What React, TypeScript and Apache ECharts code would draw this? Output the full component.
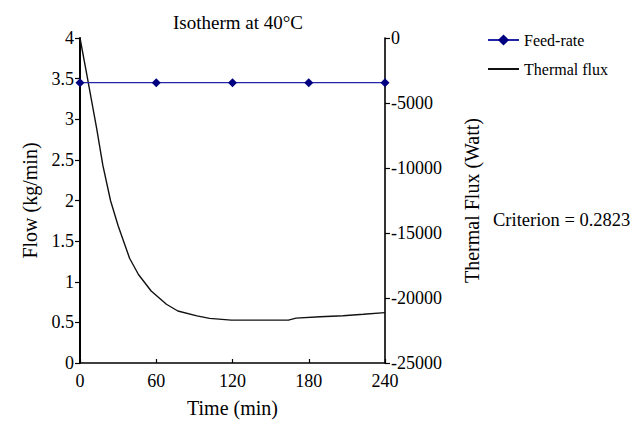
import React, { useEffect, useRef } from "react";
import * as echarts from "echarts";

const FONT = "Liberation Serif";

const feedTime = [0, 60, 120, 180, 240];
const feedRate = [3.45, 3.45, 3.45, 3.45, 3.45];

const fluxTime = [0, 5, 13, 18, 24, 30, 39, 46, 56, 68, 77, 92, 102, 119, 164, 170, 189, 207, 223, 240];
const fluxValues = [0, -2620, -6900, -9800, -12500, -14440, -16940, -18190, -19460, -20480, -21000, -21375, -21570, -21700, -21700, -21545, -21440, -21360, -21250, -21125];

const titleText = "Isotherm at 40°C";
const criterionText = "Criterion = 0.2823";

export default function App() {
  const ref = useRef<HTMLDivElement>(null);
  useEffect(() => {
    if (!ref.current) return;
    const chart = echarts.init(ref.current, undefined, { renderer: "svg" });
    const axisLine = { show: true, lineStyle: { color: "#000", width: 1.6 } };
    chart.setOption({
      animation: false,
      backgroundColor: "#fff",
      title: {
        text: titleText,
        left: 233,
        top: 8,
        textAlign: "center",
        textStyle: { fontFamily: FONT, fontSize: 19, fontWeight: "normal", color: "#000" },
      },
      legend: {
        orient: "vertical",
        left: 482,
        top: 27,
        itemWidth: 31,
        itemHeight: 14,
        itemGap: 13,
        textStyle: { fontFamily: FONT, fontSize: 16, color: "#000" },
        data: [
          { name: "Feed-rate" },
          { name: "Thermal flux", itemStyle: { opacity: 0 } },
        ],
      },
      grid: { left: 80, right: 249, top: 38, bottom: 57 },
      xAxis: {
        type: "value",
        min: 0,
        max: 240,
        interval: 60,
        name: "Time (min)",
        nameLocation: "middle",
        nameGap: 35,
        nameTextStyle: { fontFamily: FONT, fontSize: 20, color: "#000" },
        axisLine,
        axisTick: { show: true, inside: true, length: 4, lineStyle: { color: "#000", width: 1.2 } },
        axisLabel: { fontFamily: FONT, fontSize: 18, color: "#000", margin: 9 },
        splitLine: { show: false },
      },
      yAxis: [
        {
          type: "value",
          min: 0,
          max: 4,
          interval: 0.5,
          name: "Flow (kg/min)",
          nameLocation: "middle",
          nameGap: 40,
          nameTextStyle: { fontFamily: FONT, fontSize: 20, color: "#000" },
          axisLine: { show: true, lineStyle: { color: "#000", width: 2 } },
          axisTick: { show: true, inside: false, length: 5, lineStyle: { color: "#000", width: 1.2 } },
          axisLabel: { fontFamily: FONT, fontSize: 18, color: "#000", margin: 6 },
          splitLine: { show: false },
        },
        {
          type: "value",
          min: -25000,
          max: 0,
          interval: 5000,
          position: "right",
          name: "Thermal Flux (Watt)",
          nameLocation: "middle",
          nameGap: 77,
          nameTextStyle: { fontFamily: FONT, fontSize: 20, color: "#000" },
          axisLine,
          axisTick: { show: true, inside: false, length: 5, lineStyle: { color: "#000", width: 1.2 } },
          axisLabel: { fontFamily: FONT, fontSize: 18, color: "#000", margin: 6, formatter: (v: number) => String(v) },
          splitLine: { show: false },
        },
      ],
      graphic: [
        {
          type: "text",
          left: 493,
          top: 210,
          style: { text: criterionText, fontFamily: FONT, fontSize: 18.5, fill: "#000" },
        },
      ],
      series: [
        {
          name: "Feed-rate",
          type: "line",
          yAxisIndex: 0,
          data: feedTime.map((t, i) => [t, feedRate[i]]),
          symbol: "diamond",
          symbolSize: 9,
          lineStyle: { color: "#2424a8", width: 1.3 },
          itemStyle: { color: "#000080" },
          z: 3,
        },
        {
          name: "Thermal flux",
          type: "line",
          yAxisIndex: 1,
          data: fluxTime.map((t, i) => [t, fluxValues[i]]),
          symbol: "none",
          lineStyle: { color: "#111", width: 1.4 },
          itemStyle: { color: "#111" },
          z: 2,
        },
      ],
    });
    return () => chart.dispose();
  }, []);
  return (
    <div
      ref={ref}
      style={{ position: "fixed", left: 0, top: 0, width: 634, height: 423, background: "#fff" }}
    />
  );
}
